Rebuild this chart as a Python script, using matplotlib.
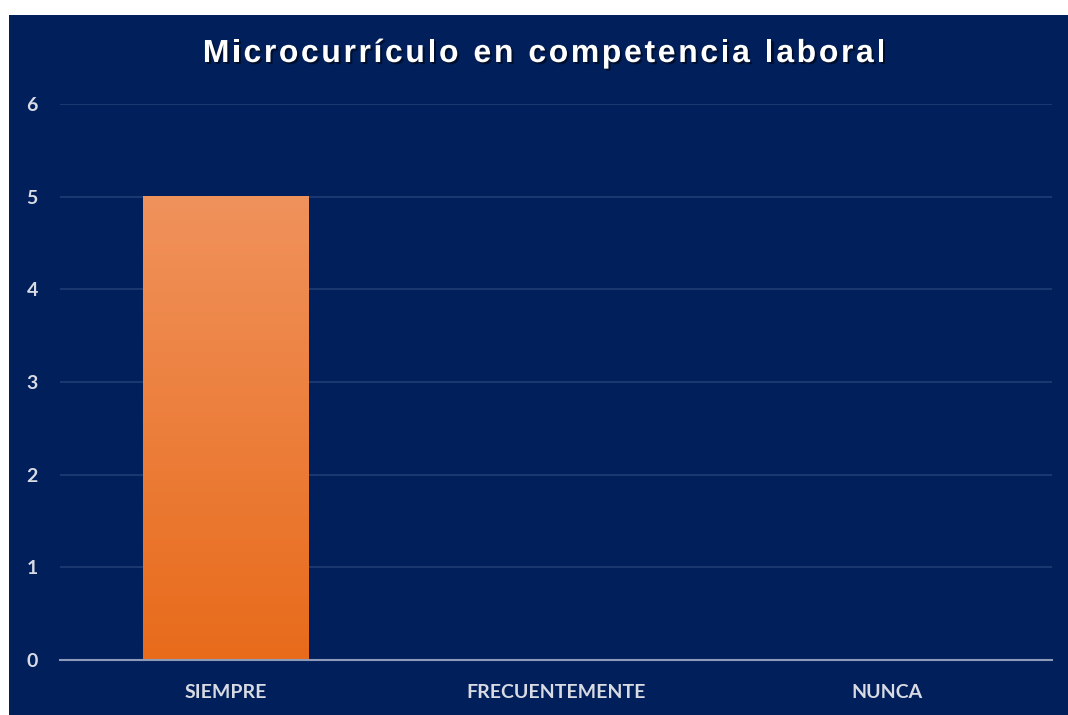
import numpy as np
import matplotlib.pyplot as plt
from matplotlib.patches import Rectangle
import matplotlib.patheffects as pe

categories = ['SIEMPRE', 'FRECUENTEMENTE', 'NUNCA']
values = [5, 0, 0]
yticks = [0, 1, 2, 3, 4, 5, 6]
title = 'Microcurrículo en competencia laboral'

navy = '#011f5b'

fig = plt.figure(figsize=(10.68, 7.15), dpi=100)
fig.patch.set_facecolor('white')
# navy panel (white margin at top and left)
fig.patches.append(Rectangle((9 / 1068, 0), 1 - 9 / 1068, 1 - 15 / 715,
                             transform=fig.transFigure, facecolor=navy,
                             edgecolor='none', zorder=-10))

ax = fig.add_axes([60 / 1068, 55 / 715, 992 / 1068, 556 / 715])
ax.patch.set_alpha(0)

x = np.arange(len(categories))
bars = ax.bar(x, values, width=0.5, color='none', zorder=3)

# gradient fill for bars
grad = np.linspace(0, 1, 256).reshape(-1, 1)
top_c = np.array([0xf0, 0x92, 0x5c]) / 255
bot_c = np.array([0xe8, 0x6b, 0x1b]) / 255
img = (bot_c[None, None, :] * (1 - grad[:, :, None]) + top_c[None, None, :] * grad[:, :, None])
for b in bars:
    h = b.get_height()
    if h <= 0:
        continue
    x0 = b.get_x()
    ax.imshow(img, extent=(x0, x0 + b.get_width(), 0, h), origin='lower',
              aspect='auto', zorder=3)

ax.set_xlim(-0.5, len(categories) - 0.5)
ax.set_ylim(0, 6)
ax.set_yticks(yticks)
ax.set_xticks(x)
ax.set_xticklabels(categories)
ax.yaxis.grid(True, color='#1e3a72', linewidth=1.3, zorder=1)
ax.set_axisbelow(True)
for s in ['top', 'right', 'left']:
    ax.spines[s].set_visible(False)
ax.spines['bottom'].set_color('#8d9bb8')
ax.spines['bottom'].set_linewidth(1.5)
ax.spines['bottom'].set_zorder(4)
ax.tick_params(length=0, colors='#d8dbe3', labelsize=14)
ax.tick_params(axis='y', pad=16)
ax.tick_params(axis='x', pad=17)
for lab in ax.get_xticklabels() + ax.get_yticklabels():
    lab.set_fontfamily('Lato')
    lab.set_fontweight('bold')

# title with extra letter spacing, drawn char by char
renderer = fig.canvas.get_renderer()
tkw = dict(color='white', fontsize=23, fontweight='bold', family='Liberation Sans',
           va='center', ha='left',
           path_effects=[pe.withSimplePatchShadow(offset=(1.5, -1.5), shadow_rgbFace='black', alpha=0.5)])
spacing = 2.6  # px between letters
widths = []
for ch in title:
    t = fig.text(0, 0, ch if ch != ' ' else 'n', **tkw)
    w = t.get_window_extent(renderer).width
    if ch == ' ':
        w *= 0.5
    widths.append(w)
    t.remove()
total = sum(widths) + spacing * (len(title) - 1)
cx = 544
xpos = cx - total / 2
ty = 1 - 54 / 715
for ch, w in zip(title, widths):
    if ch != ' ':
        fig.text(xpos / 1068, ty, ch, **tkw)
    xpos += w + spacing

fig.savefig('out.png', dpi=100, facecolor=fig.get_facecolor())
